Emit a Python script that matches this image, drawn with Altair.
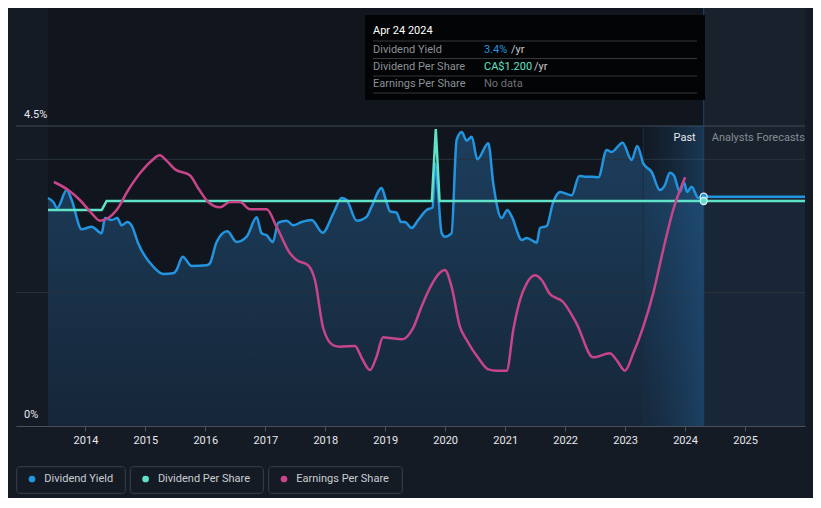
import altair as alt
import pandas as pd

# ---------------- data ----------------
yield_dates = [
    "2013-05-18", "2013-06-19", "2013-07-13", "2013-09-09", "2013-10-09", "2013-12-09",
    "2014-02-08", "2014-04-10", "2014-04-30", "2014-06-10", "2014-07-14", "2014-08-10",
    "2014-09-13", "2014-10-09", "2014-11-18", "2015-02-18", "2015-04-20", "2015-06-20",
    "2015-07-10", "2015-08-16", "2015-10-10", "2016-01-09", "2016-01-29", "2016-03-10",
    "2016-05-14", "2016-07-10", "2016-09-09", "2016-11-09", "2016-12-09", "2017-01-09",
    "2017-02-15", "2017-03-21", "2017-05-11", "2017-06-20", "2017-08-10", "2017-10-10",
    "2017-12-16", "2018-02-19", "2018-04-11", "2018-05-11", "2018-07-11", "2018-09-10",
    "2018-10-10", "2018-12-10", "2019-01-05", "2019-01-30", "2019-03-11", "2019-04-07",
    "2019-05-01", "2019-06-11", "2019-07-21", "2019-09-10", "2019-10-17", "2019-10-31",
    "2019-11-18", "2019-12-10", "2019-12-30", "2020-02-09", "2020-03-11", "2020-04-11",
    "2020-05-11", "2020-06-11", "2020-07-15", "2020-09-20", "2020-10-20", "2020-12-10",
    "2021-01-14", "2021-02-10", "2021-04-12", "2021-05-12", "2021-07-12", "2021-08-01",
    "2021-09-11", "2021-10-18", "2021-12-01", "2022-02-10", "2022-03-28", "2022-05-02",
    "2022-06-12", "2022-07-22", "2022-09-11", "2022-10-11", "2022-12-17", "2023-02-10",
    "2023-03-16", "2023-04-22", "2023-06-12", "2023-08-01", "2023-08-31", "2023-10-01",
    "2023-10-25", "2023-12-01", "2023-12-25", "2024-01-14", "2024-02-10", "2024-03-22",
    "2024-04-24",
]
yield_values = [
    3.42, 3.36, 3.27, 3.54, 3.39, 2.95,
    2.99, 2.89, 3.12, 3.09, 3.12, 3.01,
    3.06, 3.01, 2.74, 2.39, 2.28, 2.29,
    2.34, 2.54, 2.40, 2.41, 2.44, 2.76,
    2.92, 2.76, 2.84, 3.13, 2.89, 2.86,
    2.76, 3.05, 3.08, 3.01, 3.06, 3.09,
    2.90, 3.19, 3.42, 3.39, 3.08, 3.14,
    3.29, 3.57, 3.39, 3.22, 3.20, 3.06,
    3.06, 2.97, 3.09, 3.24, 3.28, 3.94,
    3.54, 2.90, 2.84, 2.89, 4.29, 4.41,
    4.28, 4.34, 4.00, 4.24, 3.64, 3.12,
    3.24, 3.14, 2.79, 2.82, 2.75, 2.97,
    3.00, 3.34, 3.51, 3.46, 3.75, 3.74,
    3.74, 3.73, 4.14, 4.11, 4.25, 3.99,
    4.20, 3.94, 3.81, 3.54, 3.61, 3.80,
    3.76, 3.51, 3.66, 3.51, 3.59, 3.42,
    3.44,
]

dps_dates = ["2013-05-18", "2014-04-10", "2014-05-10", "2019-10-12", "2019-11-05",
             "2019-11-28", "2024-04-24"]
dps_values = [1.152, 1.152, 1.200, 1.200, 1.584, 1.200, 1.200]

eps_dates = [
    "2013-06-23", "2013-09-18", "2013-11-28", "2014-02-08", "2014-03-30", "2014-05-20",
    "2014-07-10", "2014-09-19", "2014-11-29", "2015-02-08", "2015-03-30", "2015-05-10",
    "2015-06-30", "2015-09-29", "2015-11-18", "2016-01-19", "2016-03-30", "2016-05-30",
    "2016-07-30", "2016-09-29", "2017-01-09", "2017-03-10", "2017-05-31", "2017-07-10",
    "2017-09-19", "2017-10-30", "2017-12-19", "2018-02-19", "2018-04-01", "2018-07-01",
    "2018-08-11", "2018-09-30", "2018-11-09", "2018-12-19", "2019-01-30", "2019-04-11",
    "2019-06-20", "2019-08-10", "2019-09-30", "2019-11-09", "2019-12-30", "2020-02-09",
    "2020-03-31", "2020-05-11", "2020-07-21", "2020-09-20", "2020-11-10", "2021-01-10",
    "2021-02-19", "2021-04-01", "2021-05-12", "2021-07-01", "2021-08-11", "2021-09-30",
    "2021-12-20", "2022-03-11", "2022-06-21", "2022-09-30", "2022-11-10", "2022-12-31",
    "2023-02-20", "2023-04-22", "2023-06-21", "2023-08-21", "2023-10-21", "2024-01-02",
]
eps_values = [
    3.66, 3.54, 3.39, 3.19, 3.08, 3.12,
    3.24, 3.54, 3.79, 3.98, 4.06, 3.98,
    3.85, 3.76, 3.57, 3.36, 3.28, 3.36,
    3.36, 3.25, 3.25, 2.99, 2.59, 2.49,
    2.41, 2.19, 1.47, 1.21, 1.19, 1.20,
    1.02, 0.84, 1.04, 1.33, 1.32, 1.30,
    1.47, 1.79, 2.07, 2.24, 2.34, 2.09,
    1.49, 1.29, 1.02, 0.85, 0.83, 0.83,
    1.44, 1.89, 2.14, 2.26, 2.19, 1.98,
    1.86, 1.54, 1.03, 1.09, 0.99, 0.83,
    1.09, 1.49, 1.99, 2.64, 3.24, 3.73,
]

forecast_dates = ["2024-04-24", "2026-01-01"]
forecast_yield = [3.44, 3.44]
forecast_dps = [1.2, 1.2]

now_date = "2024-04-24"
band_start = "2023-04-22"
year_ticks = list(range(2014, 2026))
yield_tick_values = [0, 4.5]
yield_tick_labels = ["0%", "4.5%"]
grid_values = [2.0, 4.0]

series_names = ["Dividend Yield", "Dividend Per Share", "Earnings Per Share"]
series_colors = ["#2394df", "#5fe3c8", "#c8458a"]

tooltip_title = "Apr 24 2024"
tooltip_labels = ["Dividend Yield", "Dividend Per Share", "Earnings Per Share"]
tooltip_values = ["3.4%", "CA$1.200", "No data"]
tooltip_value_colors = ["#2394df", "#5fe3c8", "#6d7178"]
tooltip_suffix = ["/yr", "/yr", ""]

# ---------------- layout ----------------
W, H = 789, 418
YMAX = H / 300 * 4.5      # yield scale: 4.5% sits 300px above baseline
DMAX = H / 187.5          # DPS scale
FONT = "Roboto"

past_df = pd.DataFrame({"date": yield_dates, "value": yield_values})
dps_df = pd.DataFrame({"date": dps_dates, "value": dps_values})
eps_df = pd.DataFrame({"date": eps_dates, "value": eps_values})
fy_df = pd.DataFrame({"date": forecast_dates, "value": forecast_yield})
fd_df = pd.DataFrame({"date": forecast_dates, "value": forecast_dps})
one = pd.DataFrame({"a": [0]})


def dt(s):
    y, m, d = (int(p) for p in s.split("-"))
    return alt.DateTime(year=y, month=m, date=d, utc=True)


xscale = alt.Scale(type="utc", domain=[dt("2012-11-04"), dt("2026-01-01")], nice=False)
xaxis = alt.Axis(
    values=[alt.DateTime(year=y, month=1, date=1, utc=True) for y in year_ticks],
    format="%Y", labelColor="#e6e8eb", labelFont=FONT, labelFontSize=11,
    tickColor="#4a515c", tickSize=5, domainColor="#4a515c", grid=False, title=None,
    labelPadding=3, labelFlush=False, labelOverlap=False,
)


def X(field="date"):
    return alt.X(f"{field}:T", scale=xscale, axis=xaxis)


def YY(field="value", top=YMAX):
    return alt.Y(f"{field}:Q", scale=alt.Scale(domain=[0, top], nice=False, zero=True), axis=None)


layers = []

# background regions
layers.append(alt.Chart(pd.DataFrame({"s": [yield_dates[0]], "e": [now_date], "lo": [0], "hi": [YMAX]}))
              .mark_rect(color="#11161e")
              .encode(x=X("s"), x2="e:T", y=YY("lo"), y2="hi:Q"))
layers.append(alt.Chart(pd.DataFrame({"s": [now_date], "e": [forecast_dates[-1]], "lo": [0], "hi": [YMAX]}))
              .mark_rect(color="#19212c")
              .encode(x=X("s"), x2="e:T", y=YY("lo"), y2="hi:Q"))

# yield area
area_grad = alt.Gradient(gradient="linear",
                         stops=[alt.GradientStop(color="#1c3e5d", offset=0),
                                alt.GradientStop(color="#162638", offset=1)],
                         x1=1, x2=1, y1=0, y2=1)
layers.append(alt.Chart(past_df).mark_area(interpolate="monotone", color=area_grad)
              .encode(x=X(), y=YY()))
layers.append(alt.Chart(fy_df).mark_area(color="#1a2a3c", opacity=0.7)
              .encode(x=X(), y=YY()))

# grid lines
layers.append(alt.Chart(pd.DataFrame({"v": grid_values})).mark_rule(color="#2a323d", strokeWidth=1)
              .encode(y=YY("v")))
layers.append(alt.Chart(pd.DataFrame({"v": [4.5]})).mark_rule(color="#454b55", strokeWidth=1)
              .encode(y=YY("v")))

# highlighted last-year band
band_grad = alt.Gradient(gradient="linear",
                         stops=[alt.GradientStop(color="rgba(30,80,125,0.05)", offset=0),
                                alt.GradientStop(color="rgba(35,95,150,0.45)", offset=1)],
                         x1=0, x2=1, y1=0, y2=0)
layers.append(alt.Chart(pd.DataFrame({"s": [band_start], "e": [now_date], "lo": [0], "hi": [4.5]}))
              .mark_rect(color=band_grad)
              .encode(x=X("s"), x2="e:T", y=YY("lo"), y2="hi:Q"))
layers.append(alt.Chart(pd.DataFrame({"d": [band_start], "lo": [0], "hi": [4.5]}))
              .mark_rule(color="#1a2e44", strokeWidth=1)
              .encode(x=X("d"), y=YY("lo"), y2="hi:Q"))
layers.append(alt.Chart(pd.DataFrame({"d": [now_date]}))
              .mark_rule(color="#1f4466", strokeWidth=1)
              .encode(x=X("d")))

# lines
layers.append(alt.Chart(past_df).mark_line(interpolate="monotone", color=series_colors[0], strokeWidth=2.5)
              .encode(x=X(), y=YY()))
layers.append(alt.Chart(fy_df).mark_line(color=series_colors[0], strokeWidth=2.5)
              .encode(x=X(), y=YY()))
layers.append(alt.Chart(dps_df).mark_line(color=series_colors[1], strokeWidth=2.5)
              .encode(x=X(), y=YY(top=DMAX)))
layers.append(alt.Chart(fd_df).mark_line(color=series_colors[1], strokeWidth=2.5)
              .encode(x=X(), y=YY(top=DMAX)))
layers.append(alt.Chart(eps_df).mark_line(interpolate="monotone", color=series_colors[2], strokeWidth=2.5)
              .encode(x=X(), y=YY()))

# current points
layers.append(alt.Chart(pd.DataFrame({"date": [now_date], "value": [forecast_yield[0]]}))
              .mark_point(filled=True, size=50, color=series_colors[0], stroke="#e8eef4", strokeWidth=1.2, opacity=1)
              .encode(x=X(), y=YY()))
layers.append(alt.Chart(pd.DataFrame({"date": [now_date], "value": [forecast_dps[0]]}))
              .mark_point(filled=True, size=50, color=series_colors[1], stroke="#e8eef4", strokeWidth=1.2, opacity=1)
              .encode(x=X(), y=YY(top=DMAX)))

# y labels
layers.append(alt.Chart(pd.DataFrame({"v": yield_tick_values, "t": yield_tick_labels}))
              .mark_text(align="left", baseline="middle", font=FONT, fontSize=11, color="#e6e8eb", dy=-11)
              .encode(x=alt.value(8), y=YY("v"), text="t:N"))

# Past / Analysts Forecasts
layers.append(alt.Chart(pd.DataFrame({"d": [now_date], "v": [4.5], "t": ["Past"]}))
              .mark_text(align="right", baseline="middle", font=FONT, fontSize=11, color="#e6e8eb", dx=-8, dy=12)
              .encode(x=X("d"), y=YY("v"), text="t:N"))
layers.append(alt.Chart(pd.DataFrame({"d": [now_date], "v": [4.5], "t": ["Analysts Forecasts"]}))
              .mark_text(align="left", baseline="middle", font=FONT, fontSize=11, color="#868c95", dx=8, dy=12, clip=True)
              .encode(x=X("d"), y=YY("v"), text="t:N"))

# tooltip box
layers.append(alt.Chart(one).mark_rect(color="#030405")
              .encode(x=alt.value(349), x2=alt.value(689), y=alt.value(7), y2=alt.value(92)))
layers.append(alt.Chart(pd.DataFrame({"t": [tooltip_title]}))
              .mark_text(align="left", baseline="middle", font=FONT, fontSize=11, color="#ffffff")
              .encode(x=alt.value(357), y=alt.value(23), text="t:N"))
sep_y = [33, 50.5, 68, 85]
for sy in sep_y:
    layers.append(alt.Chart(one).mark_rule(color="#34393f", strokeWidth=1)
                  .encode(x=alt.value(357), x2=alt.value(681), y=alt.value(sy)))
row_y = [41.5, 59, 76.3]
suffix_x = [495, 518, 0]
for i in range(3):
    layers.append(alt.Chart(pd.DataFrame({"t": [tooltip_labels[i]]}))
                  .mark_text(align="left", baseline="middle", font=FONT, fontSize=11, color="#8b9096")
                  .encode(x=alt.value(357), y=alt.value(row_y[i]), text="t:N"))
    layers.append(alt.Chart(pd.DataFrame({"t": [tooltip_values[i]]}))
                  .mark_text(align="left", baseline="middle", font=FONT, fontSize=11, color=tooltip_value_colors[i])
                  .encode(x=alt.value(468), y=alt.value(row_y[i]), text="t:N"))
    if tooltip_suffix[i]:
        layers.append(alt.Chart(pd.DataFrame({"t": [tooltip_suffix[i]]}))
                      .mark_text(align="left", baseline="middle", font=FONT, fontSize=11, color="#c4c8cd")
                      .encode(x=alt.value(suffix_x[i]), y=alt.value(row_y[i]), text="t:N"))

# legend
box_x = [(0.7, 109.3), (114.3, 247.3), (252.7, 386.3)]
for i, name in enumerate(series_names):
    x0, x1 = box_x[i]
    layers.append(alt.Chart(one).mark_rect(fill="#151b25", stroke="#3a414c", strokeWidth=1, cornerRadius=3)
                  .encode(x=alt.value(x0), x2=alt.value(x1), y=alt.value(458.7), y2=alt.value(485.3)))
    layers.append(alt.Chart(one).mark_circle(size=45, color=series_colors[i], opacity=1)
                  .encode(x=alt.value(x0 + 15.3), y=alt.value(471)))
    layers.append(alt.Chart(pd.DataFrame({"t": [name]}))
                  .mark_text(align="left", baseline="middle", font=FONT, fontSize=11, color="#c9cdd2")
                  .encode(x=alt.value(x0 + 27.6), y=alt.value(471), text="t:N"))

chart = (
    alt.layer(*layers)
    .resolve_scale(y="independent", x="shared")
    .properties(
        width=W, height=H,
        autosize=alt.AutoSizeParams(type="none"),
        padding={"left": 8, "top": 0, "right": 8, "bottom": 72},
        background="#151b25",
    )
    .configure_view(stroke=None)
)

chart.save("out.html", embed_options={"renderer": "svg", "actions": False})
